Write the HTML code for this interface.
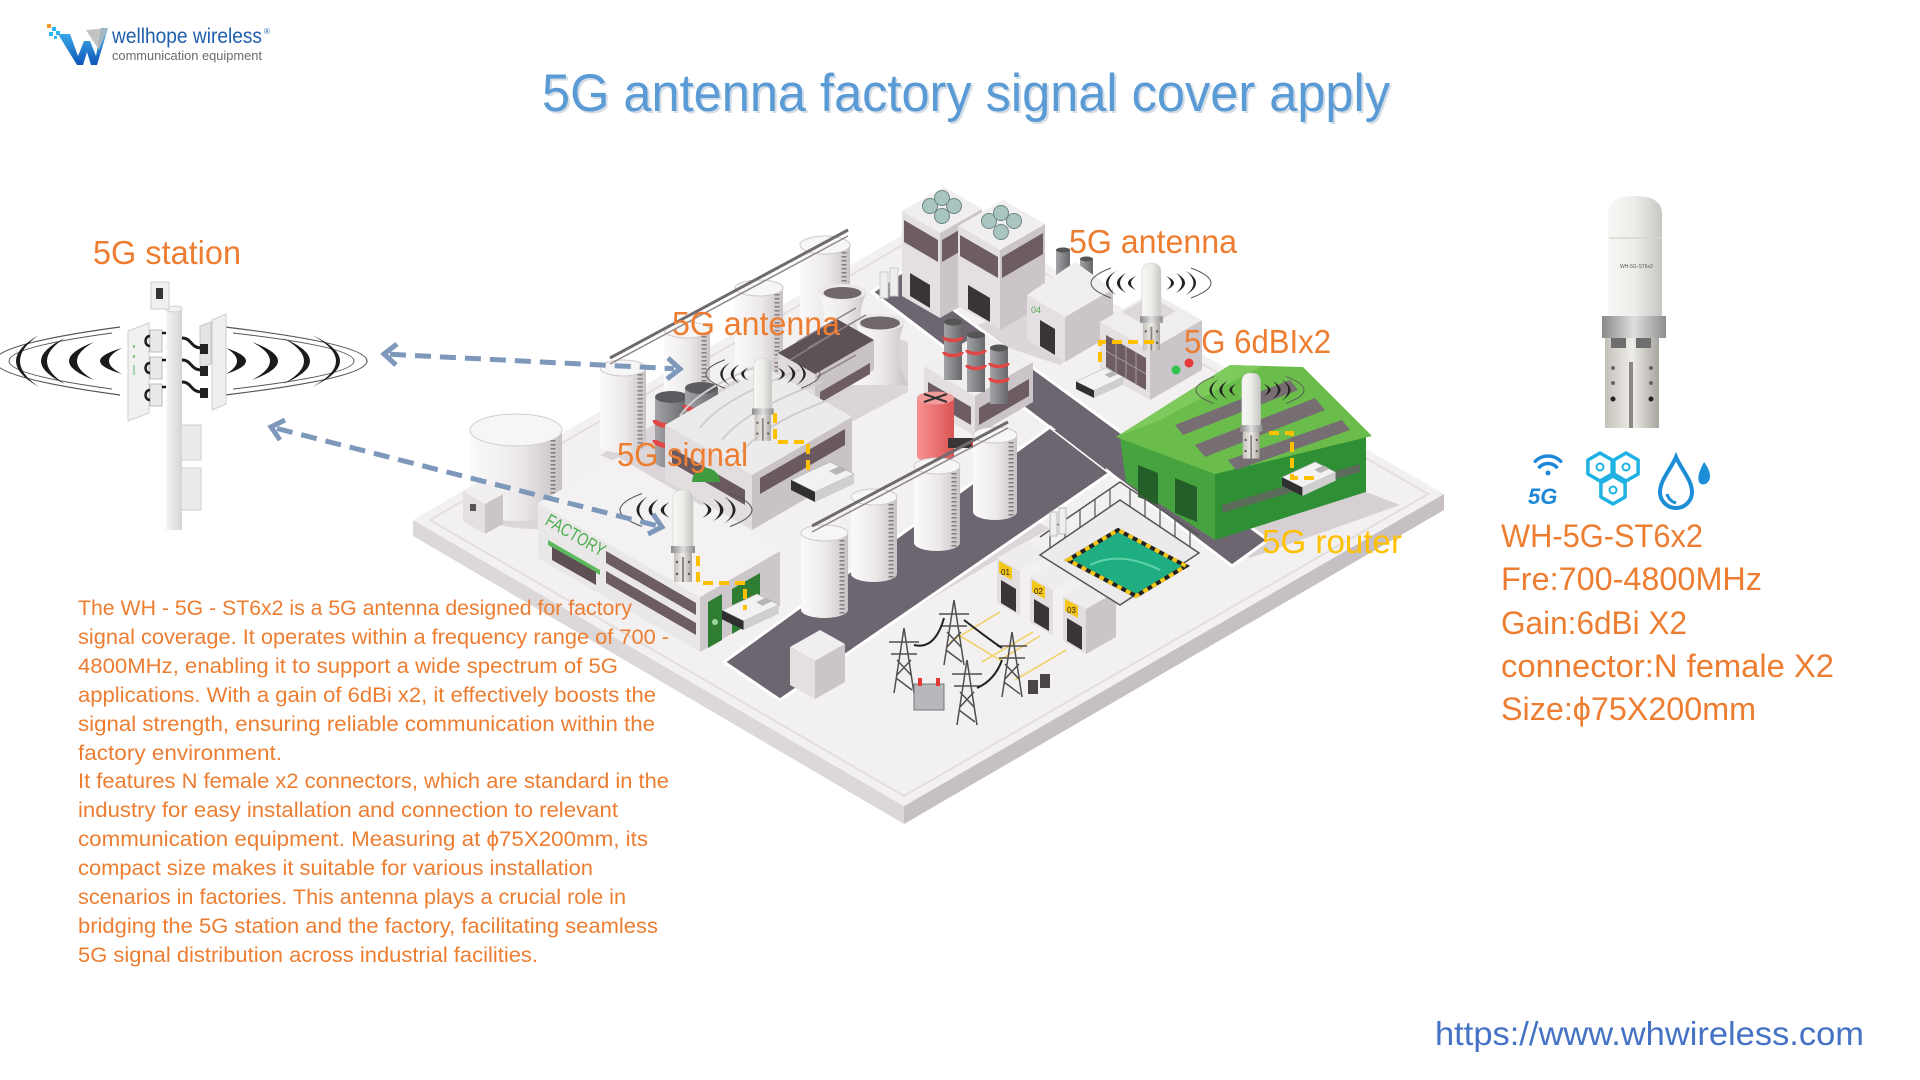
<!DOCTYPE html>
<html><head><meta charset="utf-8"><style>
html,body{margin:0;padding:0;background:#fff;width:1920px;height:1080px;overflow:hidden}
svg{display:block}
</style></head><body>
<svg width="1920" height="1080" viewBox="0 0 1920 1080" xmlns="http://www.w3.org/2000/svg" font-family="'Liberation Sans', sans-serif">
<defs>
<linearGradient id="cyl" x1="0" x2="1" y1="0" y2="0"><stop offset="0" stop-color="#fbfafa"/><stop offset="0.55" stop-color="#ebe8e9"/><stop offset="1" stop-color="#c8c1c5"/></linearGradient>
<linearGradient id="cylD" x1="0" x2="1"><stop offset="0" stop-color="#a2a4a7"/><stop offset="1" stop-color="#66686b"/></linearGradient>
<linearGradient id="redc" x1="0" x2="1"><stop offset="0" stop-color="#f79292"/><stop offset="1" stop-color="#dc5454"/></linearGradient>
<linearGradient id="rad" x1="0" x2="1"><stop offset="0" stop-color="#f7f7f5"/><stop offset="0.5" stop-color="#ecece9"/><stop offset="1" stop-color="#c6c6c3"/></linearGradient>
<linearGradient id="met" x1="0" x2="1"><stop offset="0" stop-color="#8a8a8a"/><stop offset="0.5" stop-color="#dedede"/><stop offset="1" stop-color="#8e8e8e"/></linearGradient>
<linearGradient id="brk" x1="0" x2="1"><stop offset="0" stop-color="#c4c0ba"/><stop offset="0.5" stop-color="#efede9"/><stop offset="1" stop-color="#a8a49f"/></linearGradient>
<linearGradient id="pole" x1="0" x2="1"><stop offset="0" stop-color="#f6f6f4"/><stop offset="1" stop-color="#d4d4d2"/></linearGradient>
<linearGradient id="wl" x1="0" x2="0" y1="0" y2="1"><stop offset="0" stop-color="#3fb6f2"/><stop offset="1" stop-color="#1056b8"/></linearGradient>
<g id="ant">
<path d="M2,58 L2,10 Q2,0 12,0 Q22,0 22,10 L22,58 Z" fill="url(#rad)" stroke="#cfcfcc" stroke-width="0.6"/>
<rect x="0" y="56" width="24" height="7" fill="url(#met)"/>
<rect x="3" y="63" width="18" height="29" fill="url(#brk)"/>
<rect x="11" y="67" width="2" height="25" fill="#8a8680"/>
<circle cx="6" cy="72" r="1.2" fill="#555"/><circle cx="18" cy="72" r="1.2" fill="#555"/><circle cx="6" cy="84" r="1.2" fill="#555"/><circle cx="18" cy="84" r="1.2" fill="#555"/>
</g>
<g id="sig">
<path d="M-15,-7 Q-31,0 -15,7 Q-25,0 -15,-7 Z M-25,-10 Q-43,0 -25,10 Q-37,0 -25,-10 Z M-35,-12 Q-55,0 -35,12 Q-50,0 -35,-12 Z" fill="#222"/>
<path d="M15,-7 Q31,0 15,7 Q25,0 15,-7 Z M25,-10 Q43,0 25,10 Q37,0 25,-10 Z M35,-12 Q55,0 35,12 Q50,0 35,-12 Z" fill="#222"/>
<path d="M-40,-15 Q-80,0 -40,15 M40,-15 Q80,0 40,15" stroke="#555" stroke-width="1" fill="none"/>
</g>
<g id="rt">
<path d="M0,18 L39,0 L63,12 L24,30 Z" fill="#f2f2f2" stroke="#b9b9b9" stroke-width="0.8"/>
<path d="M0,18 L24,30 L24,40 L0,28 Z" fill="#2f2f31"/>
<path d="M24,30 L63,12 L63,22 L24,40 Z" fill="#cfcfcf"/>
<path d="M38,9 L49,4 L56,8 L45,13 Z" fill="#b5b5b5"/>
</g>
</defs>

<!-- Logo -->
<rect x="47" y="24" width="4" height="4" fill="#f29a2e"/>
<rect x="52" y="27" width="4" height="4" fill="#29b6f6"/>
<rect x="56" y="31" width="4" height="4" fill="#29b6f6"/>
<rect x="49" y="32" width="4" height="4" fill="#29b6f6"/>
<rect x="54" y="36" width="3" height="3" fill="#29b6f6"/>
<path d="M58,34 L70,34 L78,56 L84,41 L90,41 L96,56 L101,28 L108,28 L97,65 L91,65 L87,52 L83,65 L77,65 Z" fill="url(#wl)"/>
<path d="M86,30 L108,28 L99,50 Z" fill="#b8b8b8" opacity="0.85"/>
<text x="112" y="43" font-size="21" fill="#1f5fae" textLength="150" lengthAdjust="spacingAndGlyphs">wellhope wireless</text>
<text x="264" y="34" font-size="8" fill="#1f5fae">®</text>
<text x="112" y="60" font-size="12.5" fill="#6a6a6a" textLength="150" lengthAdjust="spacingAndGlyphs">communication equipment</text>

<!-- Title -->
<text x="544" y="113" font-size="53" fill="#c3cfdc" opacity="0.7" textLength="848" lengthAdjust="spacingAndGlyphs">5G antenna factory signal cover apply</text>
<text x="542" y="111" font-size="53" fill="#5b9bd5" textLength="848" lengthAdjust="spacingAndGlyphs">5G antenna factory signal cover apply</text>

<!-- 5G station tower -->
<path d="M120,327 Q-130,361 120,395 M225,327 Q509,361 225,395" stroke="#555" stroke-width="1.2" fill="none"/>
<path d="M112,333 Q-94,361 112,389 M233,333 Q475,361 233,389" stroke="#555" stroke-width="1" fill="none"/>
<path d="M39,335 Q-7,361 39,387 Q1,361 39,335 Z M65,338 Q17,361 65,384 Q29,361 65,338 Z M94,342 Q44,361 94,380 Q60,361 94,342 Z M122,348 Q78,361 122,374 Q96,361 122,348 Z" fill="#1a1a1a"/>
<path d="M226,348 Q266,361 226,374 Q248,361 226,348 Z M252,342 Q304,361 252,380 Q288,361 252,342 Z M283,338 Q337,361 283,384 Q325,361 283,338 Z M312,335 Q368,361 312,387 Q360,361 312,335 Z" fill="#1a1a1a"/>
<rect x="175" y="425" width="26" height="35" fill="#ebebe9" stroke="#cfcfcd"/>
<rect x="175" y="468" width="26" height="42" fill="#ebebe9" stroke="#cfcfcd"/>
<rect x="166" y="308" width="16" height="222" fill="url(#pole)"/>
<ellipse cx="174" cy="309" rx="8" ry="3" fill="#f2f2f0" stroke="#d0d0ce"/>
<rect x="151" y="282" width="18" height="27" fill="#efefed" stroke="#cdcdcb"/>
<rect x="156" y="288" width="7" height="11" fill="#333"/>
<polygon points="128,331 149,323 149,413 128,421" fill="#f1f1ef" stroke="#cfcfcd"/>
<rect x="133" y="345" width="2" height="3" fill="#8ac68a"/><rect x="133" y="355" width="2" height="3" fill="#8ac68a"/><rect x="133" y="365" width="2" height="10" fill="#a5d5b5"/>
<rect x="150" y="330" width="12" height="22" fill="#e9e9e7" stroke="#bbb"/>
<rect x="150" y="357" width="12" height="22" fill="#e9e9e7" stroke="#bbb"/>
<rect x="150" y="384" width="12" height="22" fill="#e9e9e7" stroke="#bbb"/>
<path d="M150,336 C144,336 144,346 150,346 M150,363 C144,363 144,373 150,373 M150,390 C144,390 144,400 150,400 M162,333 L166,333 M162,360 L166,360 M162,387 L166,387" stroke="#1c1c1c" stroke-width="2.5" fill="none"/>
<polygon points="200,326 211,322 211,364 200,368" fill="#e3e3e1" stroke="#c8c8c6"/>
<polygon points="212,320 226,314 226,404 212,410" fill="#efefed" stroke="#cdcdcb"/>
<path d="M182,338 C192,338 190,348 202,348 M182,360 C192,360 190,370 202,370 M182,382 C192,382 190,392 202,392" stroke="#1c1c1c" stroke-width="3" fill="none"/>
<rect x="200" y="344" width="8" height="10" fill="#222"/><rect x="200" y="366" width="8" height="10" fill="#222"/><rect x="200" y="388" width="8" height="10" fill="#222"/>

<!-- Platform -->
<polygon points="413,520 904,806 904,824 413,536" fill="#dcd8da"/>
<polygon points="904,806 1444,494 1444,510 904,824" fill="#c6c0c4"/>
<polygon points="413,520 949,208 1444,494 904,806" fill="#f2f0f1"/>
<polygon points="430,520 949,218 1428,494 904,796" fill="none" stroke="#e2dee0" stroke-width="2"/>

<!-- Ground shadows -->
<polygon points="600,455 845,318 908,342 908,392 870,412 760,472 700,506 640,472" fill="#dbd5d9"/>
<polygon points="848,612 1017,514 1050,528 882,628" fill="#dcd6da"/>
<polygon points="960,330 1060,300 1120,320 1060,365 1000,345" fill="#dcd6da"/>
<polygon points="1215,540 1366,492 1400,505 1250,558" fill="#d6d0d4"/>

<!-- Roads -->
<polygon points="902,272 1268,540 1232,566 872,292" fill="#6d6671" stroke="#fff" stroke-width="3"/>
<polygon points="1050,427 1110,473 780,700 724,662" fill="#6d6671" stroke="#fff" stroke-width="3"/>
<polygon points="1054,430 1106,470 1103,440 1080,428" fill="#6d6671"/>

<!-- Top-left silos -->
<path d="M600,368 L600,445 A23,8 0 0 0 646,445 L646,368 Z" fill="url(#cyl)"/><ellipse cx="623" cy="368" rx="23" ry="8" fill="#f7f6f6" stroke="#cfc9cd"/>
<line x1="640" y1="374" x2="640" y2="448" stroke="#857c80" stroke-width="5" stroke-dasharray="1.5 2.5"/>
<path d="M664,330 L664,408 A23,8 0 0 0 710,408 L710,330 Z" fill="url(#cyl)"/><ellipse cx="687" cy="330" rx="23" ry="8" fill="#f7f6f6" stroke="#cfc9cd"/>
<line x1="704" y1="336" x2="704" y2="411" stroke="#857c80" stroke-width="5" stroke-dasharray="1.5 2.5"/>
<path d="M735,288 L735,375 A24,8 0 0 0 783,375 L783,288 Z" fill="url(#cyl)"/><ellipse cx="759" cy="288" rx="24" ry="8" fill="#f7f6f6" stroke="#cfc9cd"/>
<line x1="777" y1="294" x2="777" y2="378" stroke="#857c80" stroke-width="5" stroke-dasharray="1.5 2.5"/>
<path d="M800,245 L800,330 A25,9 0 0 0 850,330 L850,245 Z" fill="url(#cyl)"/><ellipse cx="825" cy="245" rx="25" ry="9" fill="#f7f6f6" stroke="#cfc9cd"/>
<line x1="844" y1="252" x2="844" y2="334" stroke="#857c80" stroke-width="5" stroke-dasharray="1.5 2.5"/>
<line x1="610" y1="358" x2="848" y2="230" stroke="#6f6a6d" stroke-width="3"/>
<line x1="610" y1="364" x2="848" y2="236" stroke="#8f898c" stroke-width="1.5"/>

<!-- Cooling towers -->
<path d="M818,292 Q832,318 815,345 L870,345 Q853,318 867,292 Z" fill="url(#cyl)"/>
<ellipse cx="842.5" cy="292" rx="24.5" ry="8" fill="#ece8ea"/><ellipse cx="842.5" cy="293" rx="19" ry="6" fill="#6f676b"/>
<path d="M855,322 Q869,352 852,385 L908,385 Q891,352 905,322 Z" fill="url(#cyl)"/>
<ellipse cx="880" cy="322" rx="25" ry="8.5" fill="#ece8ea"/><ellipse cx="880" cy="323" rx="20" ry="6.5" fill="#6f676b"/>

<!-- Fan building 1 -->
<polygon points="902,296 940,318 940,233 902,211" fill="#e4e0e2"/>
<polygon points="940,318 982,294 982,209 940,233" fill="#cbc5c9"/>
<polygon points="940,233 982,209 944,187 902,211" fill="#f0eeef"/>
<polygon points="904,220 938,240 938,262 904,242" fill="#6d5c63"/>
<polygon points="910,273 930,285 930,308 910,296" fill="#3b3437"/>
<polygon points="942,240 980,218 980,240 942,262" fill="#6d5c63"/>
<circle cx="930" cy="206" r="7.5" fill="#a9c5c1" stroke="#6e8583"/><circle cx="954" cy="206" r="7.5" fill="#a9c5c1" stroke="#6e8583"/><circle cx="942" cy="198" r="7.5" fill="#a9c5c1" stroke="#6e8583"/><circle cx="942" cy="216" r="7.5" fill="#a9c5c1" stroke="#6e8583"/>
<!-- Fan building 2 -->
<polygon points="958,306 1000,330 1000,250 958,226" fill="#e4e0e2"/>
<polygon points="1000,330 1045,304 1045,224 1000,250" fill="#cbc5c9"/>
<polygon points="1000,250 1045,224 1003,200 958,226" fill="#f0eeef"/>
<polygon points="960,235 998,257 998,278 960,256" fill="#6d5c63"/>
<polygon points="968,285 990,298 990,322 968,309" fill="#3b3437"/>
<polygon points="1002,257 1043,233 1043,254 1002,278" fill="#6d5c63"/>
<circle cx="989" cy="221" r="7.5" fill="#a9c5c1" stroke="#6e8583"/><circle cx="1014" cy="221" r="7.5" fill="#a9c5c1" stroke="#6e8583"/><circle cx="1001" cy="213" r="7.5" fill="#a9c5c1" stroke="#6e8583"/><circle cx="1001" cy="232" r="7.5" fill="#a9c5c1" stroke="#6e8583"/>

<!-- small white pipes -->
<rect x="880" y="272" width="8" height="26" fill="#eeeeee" stroke="#ccc"/><rect x="890" y="268" width="8" height="28" fill="#eeeeee" stroke="#ccc"/>

<!-- 04 building -->
<path d="M1056,250 L1056,300 L1070,300 L1070,250 Z" fill="url(#cylD)"/><ellipse cx="1063" cy="250" rx="7" ry="2.5" fill="#555"/>
<path d="M1080,259 L1080,302 L1093,302 L1093,259 Z" fill="url(#cylD)"/><ellipse cx="1086.5" cy="259" rx="6.5" ry="2.5" fill="#555"/>
<polygon points="1027,340 1065,362 1065,317 1027,295" fill="#e4e0e2"/>
<polygon points="1065,362 1113,334 1113,289 1065,317" fill="#cbc5c9"/>
<polygon points="1065,317 1113,289 1075,262 1027,295" fill="#f0eeef"/>
<polygon points="1040,320 1055,329 1055,355 1040,346" fill="#3b3437"/>
<text x="1031" y="313" font-size="9" fill="#5aa95a">04</text>

<!-- 6dBI building -->
<polygon points="1100,372 1150,400 1150,350 1100,322" fill="#e4e0e2"/>
<polygon points="1150,400 1202,370 1202,320 1150,350" fill="#cbc5c9"/>
<polygon points="1150,350 1202,320 1152,292 1100,322" fill="#efedee"/>
<polygon points="1106,335 1146,358 1146,390 1106,367" fill="#6d5c63"/>
<path d="M1116,341 L1116,373 M1126,347 L1126,379 M1136,352 L1136,385 M1106,351 L1146,374" stroke="#a89ca2" stroke-width="1"/>
<polygon points="1122,312 1150,296 1176,311 1148,327" fill="#dcd8da"/>
<circle cx="1176" cy="370" r="4.5" fill="#33c24d"/><circle cx="1189" cy="363" r="4.5" fill="#e53935"/>

<!-- Vent building -->
<polygon points="778,383 815,404 815,374 778,353" fill="#e0dcde"/>
<polygon points="815,404 874,370 874,340 815,374" fill="#c9c3c7"/>
<polygon points="815,374 874,340 837,319 778,353" fill="#5d5257"/>
<path d="M797,342 L856,308 M808,348 L866,315 M790,360 L828,337 M817,377 L856,355" stroke="#8b8186" stroke-width="1.5"/>
<polygon points="820,392 870,363 870,374 820,403" fill="#6d5c63"/>

<!-- Chimney building -->
<polygon points="924,406 975,436 975,396 924,366" fill="#e4e0e2"/>
<polygon points="975,436 1033,402 1033,362 975,396" fill="#cbc5c9"/>
<polygon points="975,396 1033,362 982,332 924,366" fill="#f0eeef"/>
<polygon points="928,382 971,407 971,425 928,400" fill="#6d5c63"/>
<polygon points="979,408 1029,379 1029,396 979,425" fill="#6d5c63"/>
<path d="M944,322 L944,380 L962,380 L962,322 Z" fill="url(#cylD)"/><ellipse cx="953" cy="322" rx="9" ry="3.5" fill="#555"/>
<path d="M967,335 L967,392 L985,392 L985,335 Z" fill="url(#cylD)"/><ellipse cx="976" cy="335" rx="9" ry="3.5" fill="#555"/>
<path d="M990,348 L990,404 L1008,404 L1008,348 Z" fill="url(#cylD)"/><ellipse cx="999" cy="348" rx="9" ry="3.5" fill="#555"/>
<path d="M944,337 A9,3.5 0 0 0 962,337 M944,352 A9,3.5 0 0 0 962,352 M967,350 A9,3.5 0 0 0 985,350 M967,365 A9,3.5 0 0 0 985,365 M990,363 A9,3.5 0 0 0 1008,363 M990,378 A9,3.5 0 0 0 1008,378" stroke="#e04848" stroke-width="3.5" fill="none"/>

<!-- Red tank -->
<path d="M917,398 L917,456 A18.5,6.5 0 0 0 954,456 L954,398 Z" fill="url(#redc)"/>
<ellipse cx="935.5" cy="398" rx="18.5" ry="6.5" fill="#f39a9a"/>
<path d="M924,394 L947,402 M947,394 L924,402" stroke="#333" stroke-width="2"/>
<rect x="948" y="438" width="26" height="10" fill="#3a3436"/><circle cx="975" cy="443" r="4" fill="#e53935"/>

<!-- Grey chimneys left -->
<path d="M655,397 L655,462 A16.5,6 0 0 0 688,462 L688,397 Z" fill="url(#cylD)"/><ellipse cx="671.5" cy="397" rx="16.5" ry="6" fill="#5a5c5f"/>
<path d="M685,388 L685,445 A16.5,6 0 0 0 718,445 L718,388 Z" fill="url(#cylD)"/><ellipse cx="701.5" cy="388" rx="16.5" ry="6" fill="#5a5c5f"/>
<path d="M655,420 A16.5,6 0 0 0 688,420 M655,440 A16.5,6 0 0 0 688,440 M685,405 A16.5,6 0 0 0 718,405 M685,425 A16.5,6 0 0 0 718,425" stroke="#e04848" stroke-width="5" fill="none"/>

<!-- Arched building -->
<polygon points="665,480 752,530 752,475 665,425" fill="#e2dee0"/>
<polygon points="752,530 852,472 852,417 752,475" fill="#c9c3c7"/>
<polygon points="752,475 852,417 765,367 665,425" fill="#ecebeb"/>
<path d="M680,416 Q700,385 780,358 M700,428 Q722,398 800,370 M722,440 Q745,410 822,382 M742,452 Q765,422 842,395" stroke="#d2cdcf" stroke-width="2" fill="none"/>
<polygon points="672,448 745,490 745,505 672,463" fill="#6a5a60"/>
<polygon points="760,478 845,429 845,445 760,494" fill="#6a5a60"/>
<path d="M692,482 A14,14 0 0 1 720,482 Z" fill="#3f9d3f"/>

<!-- Big white tank + hut -->
<ellipse cx="535" cy="515" rx="50" ry="14" fill="#dcd6da"/>
<path d="M470,430 L470,505 A46,16 0 0 0 562,505 L562,430 Z" fill="url(#cyl)"/>
<ellipse cx="516" cy="430" rx="46" ry="16" fill="#f7f6f6" stroke="#d2ccd0"/>
<line x1="553" y1="440" x2="553" y2="512" stroke="#857c80" stroke-width="5" stroke-dasharray="1.5 2.5"/>
<polygon points="463,521 485,534 485,504 463,491" fill="#e4e0e2"/>
<polygon points="485,534 503,524 503,494 485,504" fill="#cbc5c9"/>
<polygon points="485,504 503,494 481,481 463,491" fill="#f0eeef"/>
<rect x="470" y="504" width="6" height="7" fill="#555"/>

<!-- Solar panels on ground -->
<polygon points="575,497 608,478 632,492 599,511" fill="#9aa3ab" stroke="#6d747a"/>
<path d="M583,492 L616,473 M591,497 L624,478 M599,502 L632,483" stroke="#6d747a" stroke-width="1"/>

<!-- Lower silos -->
<path d="M801,533 L801,610 A23.5,8 0 0 0 848,610 L848,533 Z" fill="url(#cyl)"/><ellipse cx="824.5" cy="533" rx="23.5" ry="8" fill="#f7f6f6" stroke="#cfc9cd"/>
<line x1="842" y1="540" x2="842" y2="614" stroke="#857c80" stroke-width="5" stroke-dasharray="1.5 2.5"/>
<path d="M851,497 L851,574 A23,8 0 0 0 897,574 L897,497 Z" fill="url(#cyl)"/><ellipse cx="874" cy="497" rx="23" ry="8" fill="#f7f6f6" stroke="#cfc9cd"/>
<line x1="891" y1="504" x2="891" y2="578" stroke="#857c80" stroke-width="5" stroke-dasharray="1.5 2.5"/>
<path d="M914,466 L914,543 A23,8 0 0 0 960,543 L960,466 Z" fill="url(#cyl)"/><ellipse cx="937" cy="466" rx="23" ry="8" fill="#f7f6f6" stroke="#cfc9cd"/>
<line x1="954" y1="473" x2="954" y2="547" stroke="#857c80" stroke-width="5" stroke-dasharray="1.5 2.5"/>
<path d="M973,435 L973,512 A22,8 0 0 0 1017,512 L1017,435 Z" fill="url(#cyl)"/><ellipse cx="995" cy="435" rx="22" ry="8" fill="#f7f6f6" stroke="#cfc9cd"/>
<line x1="1011" y1="442" x2="1011" y2="516" stroke="#857c80" stroke-width="5" stroke-dasharray="1.5 2.5"/>
<line x1="812" y1="526" x2="1008" y2="422" stroke="#6f6a6d" stroke-width="3"/>
<line x1="812" y1="532" x2="1008" y2="428" stroke="#8f898c" stroke-width="1.5"/>

<!-- Green building -->
<polygon points="1120,437 1215,472 1215,540 1126,482" fill="#47a33f"/>
<polygon points="1138,465 1158,473 1158,505 1138,497" fill="#245e28"/>
<polygon points="1175,478 1197,487 1197,522 1175,513" fill="#245e28"/>
<polygon points="1215,472 1366,436 1366,492 1215,540" fill="#2f8f35"/>
<polygon points="1222,505 1360,464 1360,472 1222,513" fill="#5c6b5a"/>
<polygon points="1116,437 1230,365 1303,367 1372,436 1215,474" fill="#6bbd4b"/>
<polygon points="1116,437 1230,365 1262,366 1160,420" fill="#7fca5c"/>
<polygon points="1175,425 1290,380 1298,390 1183,435" fill="#766e73"/>
<polygon points="1195,445 1315,398 1325,410 1205,457" fill="#766e73"/>
<polygon points="1228,460 1342,420 1350,430 1236,470" fill="#766e73"/>

<!-- Factory building -->
<polygon points="538,558 700,652 700,597 538,503" fill="#eae7e9"/>
<polygon points="700,652 780,606 780,551 700,597" fill="#cdc7cb"/>
<polygon points="700,597 780,551 618,457 538,503" fill="#f3f1f2"/>
<polygon points="606,551 696,603 696,615 606,563" fill="#6d5c62"/>
<polygon points="606,571 696,623 696,635 606,583" fill="#6d5c62"/>
<polygon points="548,540 600,570 600,575 548,545" fill="#5cb85c"/>
<polygon points="552,547 596,572 596,585 552,560" fill="#5e4f55"/>
<text x="0" y="0" font-size="18" fill="#4caf50" transform="translate(544,524) rotate(30)" textLength="66" lengthAdjust="spacingAndGlyphs">FACTORY</text>
<polygon points="708,648 722,640 722,594 708,602" fill="#2e7d32"/>
<polygon points="732,634 760,618 760,573 732,589" fill="#2e7d32"/>
<circle cx="715" cy="622" r="3" fill="#9ed49f"/>

<!-- Small box near road end -->
<polygon points="790,685 815,699 815,661 790,647" fill="#e4e0e2"/>
<polygon points="815,699 845,682 845,644 815,661" fill="#cbc5c9"/>
<polygon points="815,661 845,644 820,630 790,647" fill="#f0eeef"/>

<!-- Bays 01 02 03 -->
<path d="M1000,612 L950,642 M1033,632 L982,662 M1066,650 L1015,680 M960,636 L1000,660 L1040,636" stroke="#f0d060" stroke-width="1.5" fill="none"/>
<g>
<polygon points="997,558 1020,571 1050,554 1027,541" fill="#eeeced"/>
<polygon points="997,558 1020,571 1020,616 997,603" fill="#e2dee0"/>
<polygon points="1001,580 1016,589 1016,612 1001,603" fill="#3a3436"/>
<polygon points="999,561 1012,568 1012,580 999,573" fill="#f5c518"/>
<text x="1001" y="575" font-size="8" fill="#222">01</text>
<polygon points="1030,577 1053,590 1083,573 1060,560" fill="#eeeced"/>
<polygon points="1030,577 1053,590 1053,635 1030,622" fill="#e2dee0"/>
<polygon points="1034,599 1049,608 1049,631 1034,622" fill="#3a3436"/>
<polygon points="1032,580 1045,587 1045,599 1032,592" fill="#f5c518"/>
<text x="1034" y="594" font-size="8" fill="#222">02</text>
<polygon points="1063,596 1086,609 1116,592 1093,579" fill="#eeeced"/>
<polygon points="1063,596 1086,609 1086,654 1063,641" fill="#e2dee0"/>
<polygon points="1086,609 1116,592 1116,637 1086,654" fill="#cbc5c9"/>
<polygon points="1067,618 1082,627 1082,650 1067,641" fill="#3a3436"/>
<polygon points="1065,599 1078,606 1078,618 1065,611" fill="#f5c518"/>
<text x="1067" y="613" font-size="8" fill="#222">03</text>
</g>

<!-- Pool with fence -->
<polygon points="1040,555 1120,500 1199,553 1120,605" fill="#eceaeb" stroke="#555" stroke-width="1.5"/>
<path d="M1050,548 L1050,530 M1065,538 L1065,520 M1080,528 L1080,510 M1095,517 L1095,499 M1110,507 L1110,489 M1130,507 L1130,489 M1145,517 L1145,499 M1160,527 L1160,509 M1175,537 L1175,519 M1190,547 L1190,529" stroke="#555" stroke-width="1.2"/>
<polyline points="1040,537 1120,482 1199,535" fill="none" stroke="#555" stroke-width="1.5"/>
<polygon points="1068,560 1118,530 1186,566 1136,596" fill="#1fae82" stroke="#222" stroke-width="4"/>
<polygon points="1068,560 1118,530 1186,566 1136,596" fill="none" stroke="#f5c518" stroke-width="4" stroke-dasharray="5 5"/>
<path d="M1090,565 Q1120,550 1160,570" stroke="#5fd3a8" stroke-width="2" fill="none"/>
<rect x="1050" y="512" width="7" height="24" fill="#eee" stroke="#bbb"/><rect x="1059" y="508" width="7" height="26" fill="#eee" stroke="#bbb"/>

<!-- Pylons -->
<g stroke="#4f4f4f" stroke-width="1.5" fill="none">
<path d="M904,628 L894,693 M904,628 L914,693 M889,642 L919,642 M891,654 L917,654 M897,660 L911,675 M911,660 L897,675 M896,678 L912,690"/>
<path d="M954,600 L944,665 M954,600 L964,665 M939,614 L969,614 M941,626 L967,626 M947,632 L961,647 M961,632 L947,647 M946,650 L962,662"/>
<path d="M1012,632 L1002,697 M1012,632 L1022,697 M997,646 L1027,646 M999,658 L1025,658 M1005,664 L1019,679 M1019,664 L1005,679 M1004,682 L1020,694"/>
<path d="M967,660 L957,725 M967,660 L977,725 M952,674 L982,674 M954,686 L980,686 M960,692 L974,707 M974,692 L960,707 M959,710 L975,722"/>
</g>
<path d="M914,645 Q935,650 944,618 M964,620 Q990,640 1002,648 M977,688 Q995,680 1002,660" stroke="#222" stroke-width="2" fill="none"/>
<rect x="914" y="684" width="30" height="26" fill="#b8b8bc" stroke="#777"/>
<rect x="918" y="678" width="4" height="8" fill="#e53935"/><rect x="936" y="678" width="4" height="8" fill="#e53935"/>
<rect x="1028" y="680" width="10" height="14" fill="#4a4446"/><rect x="1040" y="674" width="10" height="14" fill="#4a4446"/>

<!-- Routers -->
<use href="#rt" transform="translate(791,462)"/>
<use href="#rt" transform="translate(722,594) scale(0.9)"/>
<use href="#rt" transform="translate(1076,368) scale(0.75)"/>
<use href="#rt" transform="translate(1282,462) scale(0.85)"/>

<!-- Scene antennas and signals -->
<use href="#sig" transform="translate(1151,283)"/>
<use href="#ant" transform="translate(1140,263) scale(0.95)"/>
<use href="#sig" transform="translate(763,374) scale(0.95)"/>
<use href="#ant" transform="translate(752,358) scale(0.9)"/>
<use href="#sig" transform="translate(686,510) scale(1.1)"/>
<use href="#ant" transform="translate(671,490)"/>
<use href="#sig" transform="translate(1250,390) scale(0.9)"/>
<use href="#ant" transform="translate(1240,373) scale(0.93)"/>

<!-- Yellow dashed connectors -->
<g stroke="#ffc000" stroke-width="4" fill="none" stroke-dasharray="10 6">
<path d="M1100,362 L1100,342 L1160,342"/>
<path d="M775,413 L775,442 L808,442 L808,471"/>
<path d="M698,556 L698,583 L745,583 L745,610"/>
<path d="M1269,433 L1292,433 L1292,478 L1315,478"/>
</g>

<!-- Dashed arrows -->
<g stroke="#7d98ba" stroke-width="5" fill="none">
<line x1="390" y1="354.3" x2="674" y2="368.7" stroke-dasharray="16 9"/>
<polyline points="396,365 384,354 397,344"/>
<polyline points="668,358 680,369 667,379"/>
<line x1="277" y1="428.5" x2="656" y2="525.5" stroke-dasharray="16 9"/>
<polyline points="280,440 271,427 285,420"/>
<polyline points="653,514 662,527 648,534"/>
</g>

<!-- Labels -->
<g fill="#ed7d31" font-size="33">
<text x="93" y="264" textLength="148" lengthAdjust="spacingAndGlyphs">5G station</text>
<text x="1069" y="253" textLength="168" lengthAdjust="spacingAndGlyphs">5G antenna</text>
<text x="672" y="335" textLength="168" lengthAdjust="spacingAndGlyphs">5G antenna</text>
<text x="1184" y="353" textLength="147" lengthAdjust="spacingAndGlyphs">5G 6dBIx2</text>
<text x="617" y="466" textLength="131" lengthAdjust="spacingAndGlyphs">5G signal</text>
</g>
<text x="1262" y="553" font-size="33" fill="#ffc000" textLength="140" lengthAdjust="spacingAndGlyphs">5G router</text>

<!-- Right product antenna -->
<path d="M1608,318 L1608,214 Q1608,196 1635,196 Q1662,196 1662,214 L1662,318 Z" fill="url(#rad)"/>
<line x1="1609" y1="238" x2="1661" y2="238" stroke="#d6d6d3" stroke-width="1.5"/>
<text x="1620" y="268" font-size="5" fill="#555">WH-5G-ST6x2</text>
<rect x="1602" y="316" width="64" height="22" fill="url(#met)"/>
<rect x="1605" y="338" width="54" height="90" fill="url(#brk)"/>
<rect x="1611" y="338" width="15" height="10" fill="#6e6e6e"/><rect x="1636" y="338" width="15" height="10" fill="#6e6e6e"/>
<rect x="1629" y="362" width="4" height="66" fill="#8c8882"/>
<circle cx="1613" cy="368" r="2" fill="#666"/><circle cx="1651" cy="368" r="2" fill="#666"/><circle cx="1613" cy="383" r="2" fill="#666"/><circle cx="1651" cy="383" r="2" fill="#666"/><circle cx="1613" cy="399" r="2.5" fill="#222"/><circle cx="1651" cy="399" r="2.5" fill="#222"/>

<!-- Icons -->
<g stroke="#1e88d8" stroke-width="3.5" fill="none" stroke-linecap="round">
<path d="M1535.3,461.3 A18,18 0 0 1 1560.7,461.3"/>
<path d="M1539.5,467 A12,12 0 0 1 1556.5,467"/>
</g>
<circle cx="1548" cy="473" r="2.5" fill="#1e88d8"/>
<text x="1528" y="504" font-size="22" font-weight="bold" font-style="italic" fill="#1e88d8">5G</text>
<g stroke="#1fb2e3" stroke-width="3.5" fill="#fff" stroke-linejoin="round">
<polygon points="1600,453 1612.1,460 1612.1,474 1600,481 1587.9,474 1587.9,460"/>
<polygon points="1626,453 1638.1,460 1638.1,474 1626,481 1613.9,474 1613.9,460"/>
<polygon points="1613,476 1625.1,483 1625.1,497 1613,504 1600.9,497 1600.9,483"/>
</g>
<g stroke="#1fb2e3" stroke-width="2" fill="none"><circle cx="1600" cy="467" r="3.5"/><circle cx="1626" cy="467" r="3.5"/><circle cx="1613" cy="490" r="3.5"/></g>
<path d="M1676,457 C1671,469 1660,480 1660,492 A16,16 0 0 0 1692,492 C1692,480 1681,469 1676,457 Z" stroke="#1c8ed8" stroke-width="4" fill="none"/>
<path d="M1667,494 Q1669,501 1676,503" stroke="#1c8ed8" stroke-width="3" fill="none"/>
<path d="M1704,462 C1700,470 1697,476 1699,482 C1702,487 1710,484 1710,476 C1710,471 1707,466 1704,462 Z" fill="#1c8ed8"/>

<!-- Spec text -->
<g fill="#ed7d31" font-size="32">
<text x="1501" y="547" textLength="202" lengthAdjust="spacingAndGlyphs">WH-5G-ST6x2</text>
<text x="1501" y="590" textLength="261" lengthAdjust="spacingAndGlyphs">Fre:700-4800MHz</text>
<text x="1501" y="634" textLength="186" lengthAdjust="spacingAndGlyphs">Gain:6dBi X2</text>
<text x="1501" y="677" textLength="333" lengthAdjust="spacingAndGlyphs">connector:N female X2</text>
<text x="1501" y="720" textLength="255" lengthAdjust="spacingAndGlyphs">Size:ϕ75X200mm</text>
</g>

<!-- Body text -->
<g fill="#ed7d31" font-size="21.5">
<text x="78" y="615" textLength="554" lengthAdjust="spacingAndGlyphs">The WH - 5G - ST6x2 is a 5G antenna designed for factory</text>
<text x="78" y="644" textLength="591" lengthAdjust="spacingAndGlyphs">signal coverage. It operates within a frequency range of 700 -</text>
<text x="78" y="673" textLength="540" lengthAdjust="spacingAndGlyphs">4800MHz, enabling it to support a wide spectrum of 5G</text>
<text x="78" y="702" textLength="578" lengthAdjust="spacingAndGlyphs">applications. With a gain of 6dBi x2, it effectively boosts the</text>
<text x="78" y="731" textLength="577" lengthAdjust="spacingAndGlyphs">signal strength, ensuring reliable communication within the</text>
<text x="78" y="760" textLength="204" lengthAdjust="spacingAndGlyphs">factory environment.</text>
<text x="78" y="788" textLength="591" lengthAdjust="spacingAndGlyphs">It features N female x2 connectors, which are standard in the</text>
<text x="78" y="817" textLength="540" lengthAdjust="spacingAndGlyphs">industry for easy installation and connection to relevant</text>
<text x="78" y="846" textLength="570" lengthAdjust="spacingAndGlyphs">communication equipment. Measuring at ϕ75X200mm, its</text>
<text x="78" y="875" textLength="515" lengthAdjust="spacingAndGlyphs">compact size makes it suitable for various installation</text>
<text x="78" y="904" textLength="548" lengthAdjust="spacingAndGlyphs">scenarios in factories. This antenna plays a crucial role in</text>
<text x="78" y="933" textLength="580" lengthAdjust="spacingAndGlyphs">bridging the 5G station and the factory, facilitating seamless</text>
<text x="78" y="962" textLength="460" lengthAdjust="spacingAndGlyphs">5G signal distribution across industrial facilities.</text>
</g>

<!-- URL -->
<text x="1435" y="1045" font-size="33" fill="#4472c4" textLength="429" lengthAdjust="spacingAndGlyphs">https://www.whwireless.com</text>
</svg>
</body></html>
